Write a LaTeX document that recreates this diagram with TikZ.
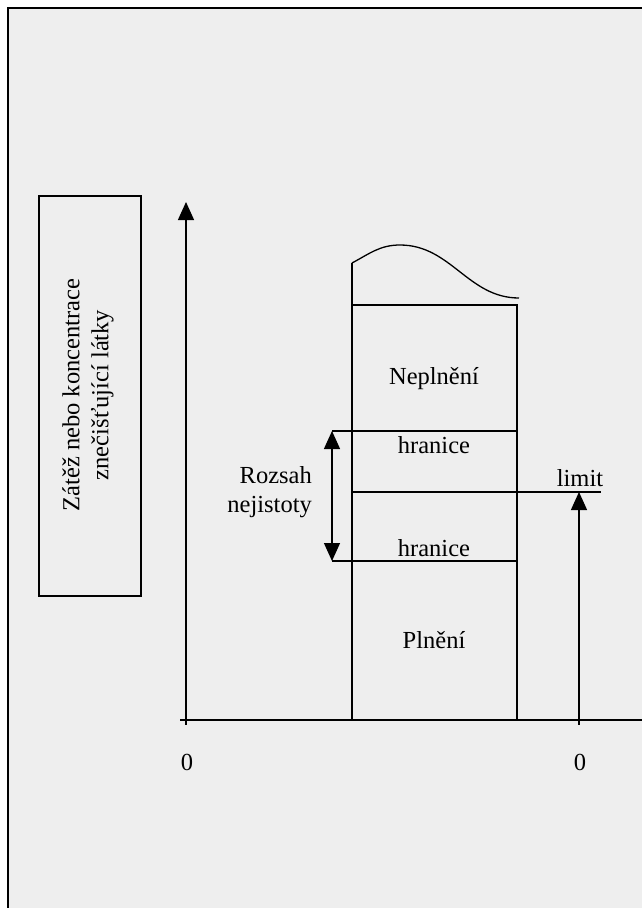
\documentclass[tikz,border=0pt]{standalone}
\usepackage{fontspec}
\setmainfont{Liberation Serif}
\usetikzlibrary{arrows.meta}
\definecolor{bg}{HTML}{EEEEEE}
\tikzset{
  ln/.style={line width=1.3pt, black},
  arr/.style={ln, -{Triangle[width=16pt,length=18pt]}},
  darr/.style={ln, {Triangle[width=16pt,length=18pt]}-{Triangle[width=16pt,length=18pt]}},
  lbl/.style={font=\fontsize{24.5}{29}\selectfont, inner sep=0pt, anchor=base},
}
\begin{document}
\begin{tikzpicture}[x=1pt,y=-1pt]
\useasboundingbox (0,0) rectangle (642,908);
\fill[white] (0,0) rectangle (642,908);
\fill[bg] (8,8) rectangle (642,908);
\draw[line width=1.2pt] (8,908) -- (8,8) -- (642,8);

% left label box
\node[draw, line width=1.2pt, minimum width=102pt, minimum height=400pt, inner sep=0pt] (ylab) at (90,396) {};
\node[rotate=90, align=center, font=\fontsize{24.5}{29}\selectfont, inner sep=0pt] (ytext) at (88,395) {Zátěž nebo koncentrace\\znečišťující látky};

% axes
\coordinate (o1) at (186,720);
\coordinate (ytop) at (186,202);
\coordinate (xl) at (180,720);
\coordinate (xr) at (642,720);
\coordinate (o2) at (579,720);
\coordinate (t1) at (186,725);
\coordinate (t2) at (579,725);
\draw[arr] (o1) -- (ytop);
\draw[ln] (xl) -- (xr);
\draw[ln] (o1) -- (t1);
\draw[ln] (o2) -- (t2);
\node[lbl] (z1) at (187,770) {0};
\node[lbl] (z2) at (580,770) {0};

% big rectangle
\coordinate (bl) at (352,720);
\coordinate (br) at (517,720);
\coordinate (tl) at (352,305);
\coordinate (tr) at (517,305);
\coordinate (cs) at (352,263);
\coordinate (cp) at (400,245);
\coordinate (ce) at (519,298);
\draw[ln] (bl) -- (cs);
\draw[ln] (br) -- (tr) -- (tl);
\draw[ln] (cs) to[out=28,in=180] (cp) to[out=0,in=180] (ce);

% lines
\coordinate (h1l) at (332,431);
\coordinate (h1r) at (517,431);
\coordinate (h2l) at (332,561);
\coordinate (h2r) at (517,561);
\coordinate (liml) at (352,492);
\coordinate (limr) at (601,492);
\draw[ln] (h1l) -- (h1r);
\draw[ln] (h2l) -- (h2r);
\draw[ln] (liml) -- (limr);
\draw[darr] (h1l) -- (h2l);
\coordinate (limtip) at (579,492);
\draw[arr] (o2) -- (limtip);

% texts
\node[lbl] (nep) at (434,384) {Neplnění};
\node[lbl] (hr1) at (434,453) {hranice};
\node[lbl] (hr2) at (434,556) {hranice};
\node[lbl] (lim) at (580,486) {limit};
\node[lbl] (pl) at (434,648) {Plnění};
\node[align=right, anchor=east, font=\fontsize{24.5}{29}\selectfont, inner sep=0pt] (roz) at (312,492) {Rozsah\\nejistoty};
\end{tikzpicture}
\end{document}
